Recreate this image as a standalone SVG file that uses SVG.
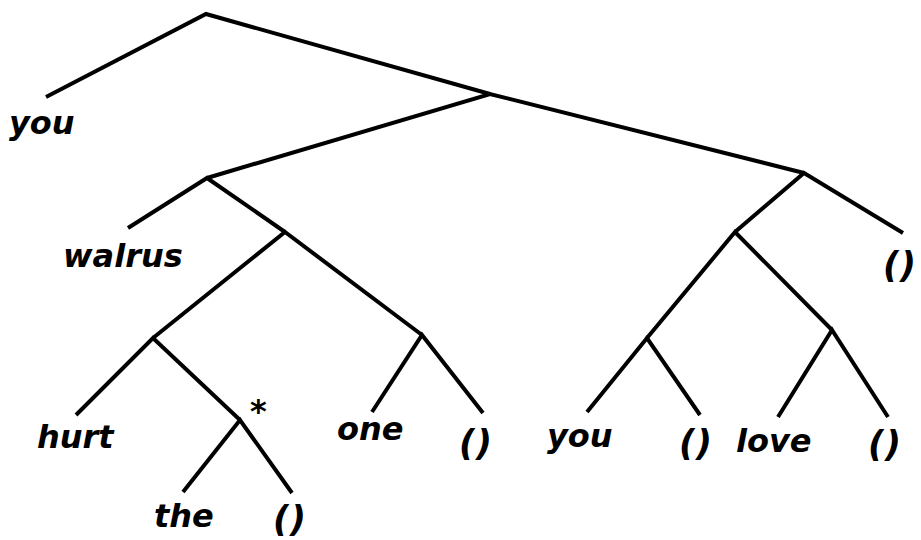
<svg xmlns="http://www.w3.org/2000/svg" width="921" height="540" viewBox="0 0 921 540">
<style>
.e{stroke:#000;stroke-width:4;fill:none;stroke-linecap:butt;stroke-linejoin:miter}
.t{font-family:"DejaVu Sans","Liberation Sans",sans-serif;font-weight:bold;font-style:italic;font-size:32px;fill:#000}
.p{font-size:35px;letter-spacing:1px}
</style>
<rect width="921" height="540" fill="#fff"/>
<g id="connectors">
<polyline class="e" points="46,97 206,14 490,94"/>
<polyline class="e" points="207,178 490,94 804,173"/>
<polyline class="e" points="128,228 207,178 285,232"/>
<polyline class="e" points="153,338 285,232 422,335"/>
<polyline class="e" points="76,415 153,338 240,420"/>
<polyline class="e" points="183,492 240,420 292,493"/>
<polyline class="e" points="372,412 422,335 483,413"/>
<polyline class="e" points="735,232 804,173 903,233"/>
<polyline class="e" points="647,338 735,232 832,330"/>
<polyline class="e" points="587,412 647,338 700,415"/>
<polyline class="e" points="778,417 832,330 888,417"/>
</g>
<g id="n-you1"><text class="t" x="9" y="134">you</text></g>
<g id="n-walrus"><text class="t" x="63" y="267">walrus</text></g>
<g id="n-hurt"><text class="t" x="37" y="448">hurt</text></g>
<g id="n-star"><text class="t" x="250" y="422">*</text></g>
<g id="n-the"><text class="t" x="154" y="527">the</text></g>
<g id="n-e1"><text class="t p" x="273" y="531">()</text></g>
<g id="n-one"><text class="t" x="337" y="440">one</text></g>
<g id="n-e2"><text class="t p" x="459" y="455">()</text></g>
<g id="n-you2"><text class="t" x="547" y="447">you</text></g>
<g id="n-e3"><text class="t p" x="679" y="455">()</text></g>
<g id="n-love"><text class="t" x="736" y="452">love</text></g>
<g id="n-e4"><text class="t p" x="868" y="456">()</text></g>
<g id="n-e5"><text class="t p" x="883" y="277">()</text></g>
</svg>
